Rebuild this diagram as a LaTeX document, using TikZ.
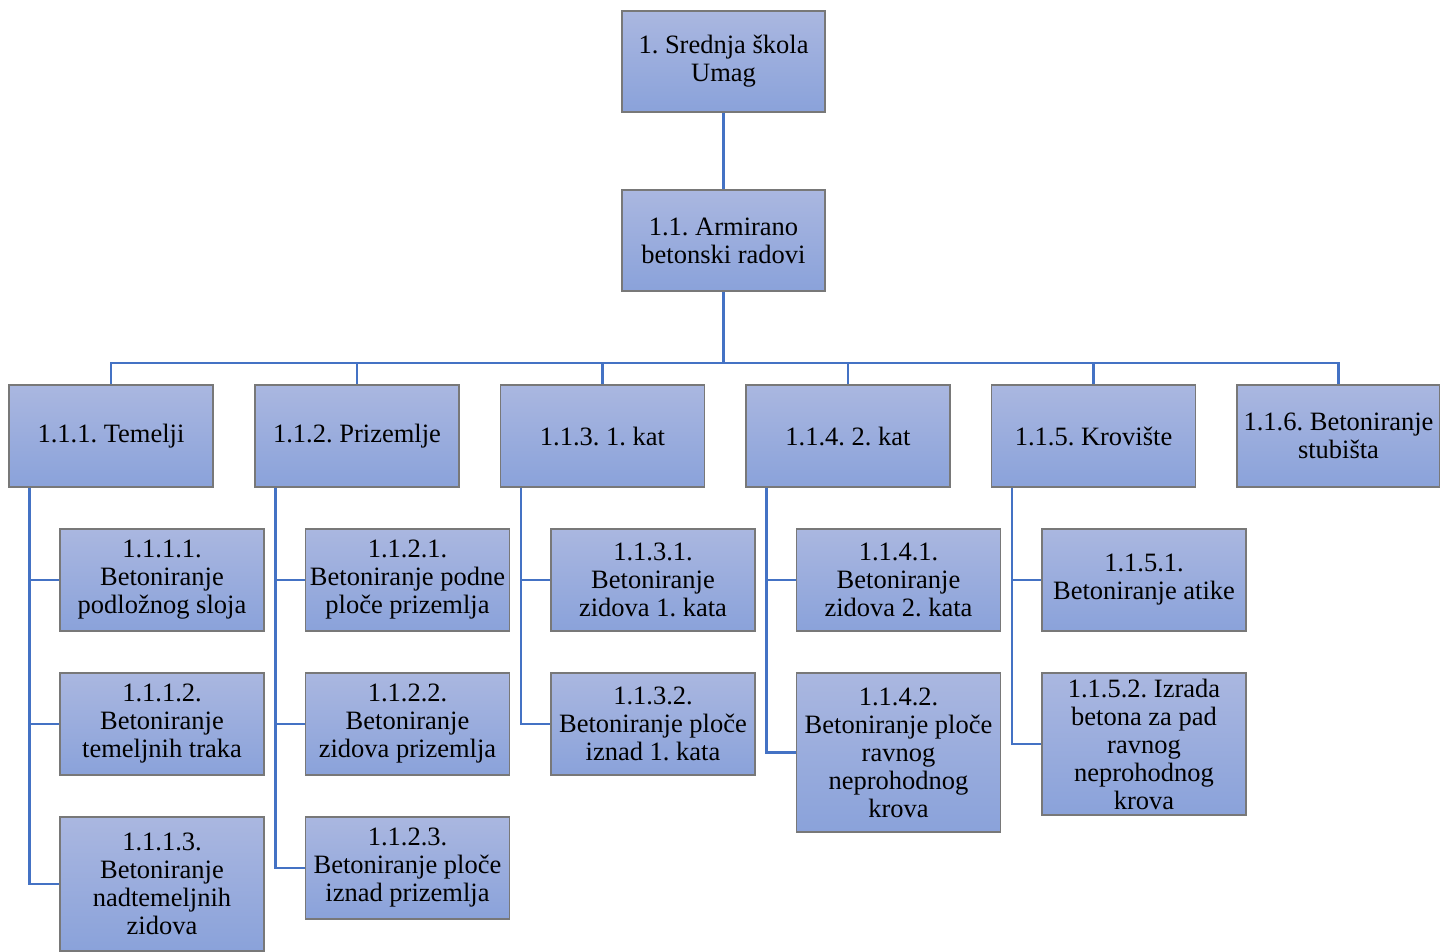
\documentclass[tikz,border=0pt]{standalone}
\usepackage{fontspec}
\setmainfont{Liberation Serif}
\newfontfamily\wbsfont{Liberation Serif}
\frenchspacing
\definecolor{boxtop}{RGB}{170,183,224}
\definecolor{boxbot}{RGB}{138,162,218}
\definecolor{boxline}{RGB}{120,120,120}
\definecolor{conn}{RGB}{68,114,196}
\begin{document}
\begin{tikzpicture}[x=1pt,y=-1pt,
  wbs/.style={draw=boxline, line width=1.3pt, top color=boxtop, bottom color=boxbot,
    minimum width=204pt, minimum height=102pt, inner sep=0pt, align=center,
    font=\wbsfont\frenchspacing\fontsize{26.5}{28}\selectfont},
  link/.style={draw=conn, line width=2.5pt}]
\useasboundingbox (0,0) rectangle (1440,951);
% levels 1 and 2
\node[wbs, minimum width=203pt, minimum height=101pt] (root) at (723.5,61.5) {1. Srednja škola\\Umag};
\node[wbs, minimum width=203pt, minimum height=101pt] (n11) at (723.5,240.5) {1.1. Armirano\\betonski radovi};
% level 3
\node[wbs] (c1) at (111,436) {1.1.1. Temelji};
\node[wbs] (c2) at (357,436) {1.1.2. Prizemlje};
\node[wbs] (c3) at (602.5,436) {1.1.3. 1. kat};
\node[wbs] (c4) at (848,436) {1.1.4. 2. kat};
\node[wbs] (c5) at (1093.5,436) {1.1.5. Krovište};
\node[wbs, minimum width=203pt] (c6) at (1338.5,436) {1.1.6. Betoniranje\\stubišta};
% level 4
\node[wbs] (c11) at (162,580) {1.1.1.1.\\Betoniranje\\podložnog sloja};
\node[wbs] (c12) at (162,724) {1.1.1.2.\\Betoniranje\\temeljnih traka};
\node[wbs, minimum height=134pt] (c13) at (162,884) {1.1.1.3.\\Betoniranje\\nadtemeljnih\\zidova};
\node[wbs] (c21) at (407.5,580) {1.1.2.1.\\Betoniranje podne\\ploče prizemlja};
\node[wbs] (c22) at (407.5,724) {1.1.2.2.\\Betoniranje\\zidova prizemlja};
\node[wbs] (c23) at (407.5,868) {1.1.2.3.\\Betoniranje ploče\\iznad prizemlja};
\node[wbs] (c31) at (653,580) {1.1.3.1.\\Betoniranje\\zidova 1. kata};
\node[wbs] (c32) at (653,724) {1.1.3.2.\\Betoniranje ploče\\iznad 1. kata};
\node[wbs] (c41) at (898.5,580) {1.1.4.1.\\Betoniranje\\zidova 2. kata};
\node[wbs, minimum height=159pt] (c42) at (898.5,752.5) {1.1.4.2.\\Betoniranje ploče\\ravnog\\neprohodnog\\krova};
\node[wbs] (c51) at (1144,580) {1.1.5.1.\\Betoniranje atike};
\node[wbs, minimum height=142pt] (c52) at (1144,744) {1.1.5.2. Izrada\\betona za pad\\ravnog\\neprohodnog\\krova};
% connectors
\coordinate (bus) at (723.5,363);
\draw[link] (root.south) -- (n11.north);
\draw[link] (n11.south) -- (bus);
\foreach \c in {c1,c2,c3,c4,c5,c6} \draw[link] (bus) -| (\c.north);
\foreach \p/\k in {c1/c11,c1/c12,c1/c13,c2/c21,c2/c22,c2/c23,c3/c31,c3/c32,c4/c41,c4/c42,c5/c51,c5/c52}
  \draw[link] ([xshift=21pt]\p.south west) |- (\k.west);
\end{tikzpicture}
\end{document}
